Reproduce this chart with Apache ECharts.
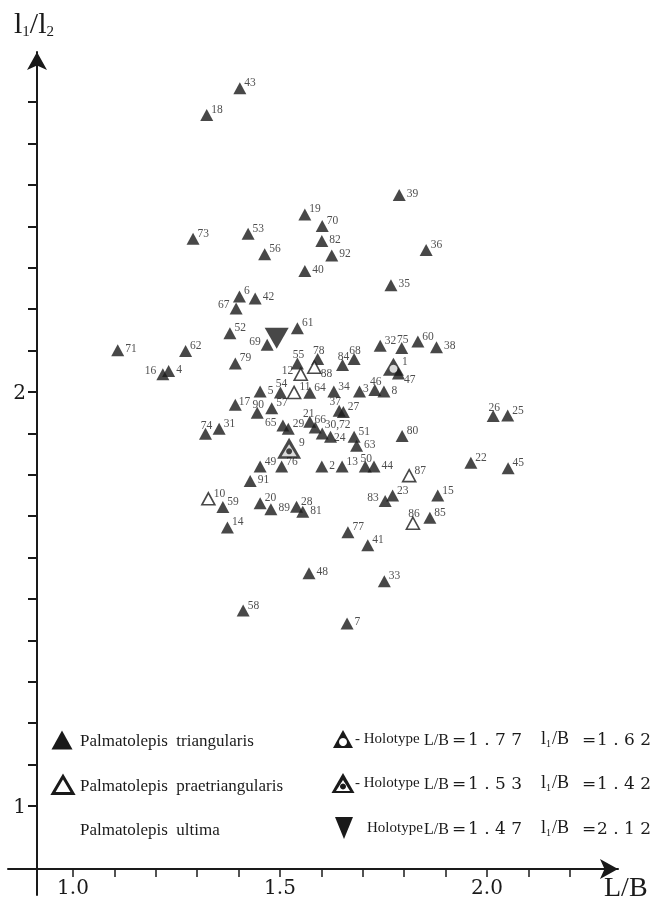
<!DOCTYPE html>
<html>
<head>
<meta charset="utf-8">
<title>Palmatolepis L/B vs l1/l2</title>
<script src="https://cdn.jsdelivr.net/npm/echarts@6/dist/echarts.min.js"></script>
<style>
  html, body { margin: 0; padding: 0; background: #fff; }
  #chart { width: 654px; height: 900px; filter: grayscale(1); }
</style>
</head>
<body>
<div id="chart"></div>
<script>
// Palmatolepis triangularis specimens (filled triangles)
const triIds = ['43','18','19','70','73','53','82','56','92','40','6','42','67','52','61','39','36','35','32','75','60','38','84','68','47','34','3','46','8','71','62','69','79','16','4','55','78','5','54','64','17','90','57','74','31','65','29','21','66','30,72','24','49','76','2','37','27','51','63','80','26','25','22','13','50','44','45','91','59','20','89','28','81','14','83','23','15','85','77','41','48','33','58','7'];
const triLB = [1.403,1.323,1.560,1.602,1.290,1.423,1.601,1.463,1.625,1.560,1.402,1.440,1.394,1.379,1.542,1.788,1.853,1.768,1.742,1.794,1.833,1.878,1.651,1.679,1.786,1.630,1.692,1.729,1.751,1.108,1.272,1.469,1.392,1.217,1.231,1.542,1.591,1.452,1.501,1.572,1.392,1.445,1.480,1.320,1.353,1.507,1.520,1.572,1.585,1.602,1.622,1.452,1.504,1.601,1.643,1.653,1.679,1.685,1.795,2.015,2.050,1.961,1.650,1.706,1.727,2.051,1.428,1.362,1.452,1.478,1.540,1.555,1.373,1.754,1.772,1.881,1.862,1.664,1.712,1.570,1.752,1.411,1.662];
const triLL = [2.734,2.669,2.429,2.401,2.370,2.382,2.365,2.333,2.330,2.292,2.231,2.226,2.202,2.142,2.154,2.476,2.343,2.258,2.112,2.106,2.122,2.108,2.065,2.080,2.045,2.001,2.001,2.005,2.001,2.101,2.099,2.114,2.069,2.043,2.051,2.069,2.080,2.001,1.999,1.998,1.969,1.950,1.961,1.899,1.911,1.919,1.911,1.928,1.914,1.900,1.892,1.820,1.820,1.820,1.955,1.952,1.892,1.870,1.894,1.942,1.943,1.829,1.820,1.820,1.820,1.816,1.785,1.722,1.731,1.717,1.723,1.711,1.673,1.737,1.750,1.750,1.696,1.661,1.630,1.562,1.543,1.472,1.441];

// Palmatolepis praetriangularis specimens (open triangles)
const praeIds = ['10','11','12','86','87','88'];
const praeLB = [1.327,1.534,1.550,1.821,1.812,1.583];
const praeLL = [1.742,1.999,2.043,1.683,1.798,2.060];

// holotypes
const holoTriId = ['1'];
const holoTriLB = [1.774];
const holoTriLL = [2.061];
const holoPraeId = ['9'];
const holoPraeLB = [1.522];
const holoPraeLL = [1.864];
const holoUltLB = [1.492];
const holoUltLL = [2.130];

// axis ticks
const xTicks = [1.0,1.1,1.2,1.3,1.4,1.5,1.6,1.7,1.8,1.9,2.0,2.1,2.2];
const xLabels = [1.0,1.5,2.0];
const yTicks = [1.0,1.1,1.2,1.3,1.4,1.5,1.6,1.7,1.8,1.9,2.0,2.1,2.2,2.3,2.4,2.5,2.6,2.7];
const yLabels = [1,2];

// legend text
const holoText = [
  { dash: '- ', lb: '1 . 7 7', l1: '1 . 6 2' },
  { dash: '- ', lb: '1 . 5 3', l1: '1 . 4 2' },
  { dash: '',   lb: '1 . 4 7', l1: '2 . 1 2' }
];

const INK = '#1a1a1a';
const SERIF = '"Liberation Serif", "DejaVu Serif", serif';
const WIDE = '"DejaVu Serif", serif';

// where each number sits next to its triangle
const place = {
  tr: { position: 'right', distance: 0, offset: [-2, -6] },
  r:  { position: 'right', distance: 1, offset: [0, -2] },
  br: { position: 'right', distance: 0, offset: [-1, 6] },
  t:  { position: 'top', distance: -3, offset: [1, 0] },
  l:  { position: 'left', distance: 1, offset: [1, -4] },
  tt: { position: 'top', distance: -3, offset: [5, 0] },
  tl: { position: 'top', distance: -2, offset: [-4, 0] },
  t0: { position: 'top', distance: -3, offset: [-1, 0] },
  hi: { position: 'right', distance: 0, offset: [-4, -9] },
  lo: { position: 'right', distance: 0, offset: [-3, 0] },
  rn: { position: 'right', distance: 0, offset: [-3, -4] }
};
const side = {
  '67':'l','69':'l','16':'l','12':'l','65':'l','83':'l',
  '75':'t','84':'t','68':'t','46':'t','55':'t','78':'t','54':'t','90':'t','74':'t','26':'t','50':'t','86':'t',
  '82':'r','92':'r','40':'r','42':'r','39':'r','35':'r','38':'r','8':'r','71':'r','4':'r','5':'r','2':'r','63':'r','44':'r','91':'r','89':'r','81':'r','48':'r','7':'r',
  '47':'br','88':'br','30,72':'hi','66':'tt','37':'tl','24':'lo','17':'rn','3':'rn','21':'t0'
};

function points(ids, lb, ll) {
  return ids.map((id, i) => ({ name: id, value: [lb[i], ll[i]], label: place[side[id] || 'tr'] }));
}
function plain(lb, ll) {
  return lb.map((v, i) => [v, ll[i]]);
}

const numLabel = { show: true, formatter: '{b}', fontFamily: SERIF, fontSize: 11.5, color: '#222' };

function tri(cx, cy, w, h, down) {
  return down
    ? [[cx - w / 2, cy - h / 2], [cx + w / 2, cy - h / 2], [cx, cy + h / 2]]
    : [[cx - w / 2, cy + h / 2], [cx + w / 2, cy + h / 2], [cx, cy - h / 2]];
}
function txt(x, y, text, font, align) {
  return { type: 'text', x: x, y: y, style: { text: text, font: font, fill: INK, verticalAlign: 'middle', align: align || 'left' } };
}

// legend block
const legend = [
  { type: 'polygon', shape: { points: tri(62, 740, 21, 19) }, style: { fill: INK } },
  txt(80, 740, 'Palmatolepis  triangularis', '17px ' + SERIF),
  { type: 'polygon', shape: { points: tri(63, 785, 20, 17) }, style: { fill: '#fff', stroke: INK, lineWidth: 3 } },
  txt(80, 785, 'Palmatolepis  praetriangularis', '17px ' + SERIF),
  txt(80, 829, 'Palmatolepis  ultima', '17px ' + SERIF),

  { type: 'polygon', shape: { points: tri(343, 739, 20, 18) }, style: { fill: INK } },
  { type: 'circle', shape: { cx: 343, cy: 742, r: 4 }, style: { fill: '#fff' } },
  { type: 'polygon', shape: { points: tri(343, 783, 23, 20) }, style: { fill: INK } },
  { type: 'polygon', shape: { points: tri(343, 785.5, 14, 11) }, style: { fill: '#fff' } },
  { type: 'circle', shape: { cx: 343, cy: 786.5, r: 3 }, style: { fill: INK } },
  { type: 'polygon', shape: { points: tri(344, 828, 18, 22, true) }, style: { fill: INK } }
];
const rowY = [738, 782, 827];
holoText.forEach((r, i) => {
  const y = rowY[i];
  const x0 = r.dash ? 355 : 367;
  legend.push(
    txt(x0, y, r.dash + 'Holotype', '15px ' + SERIF),
    txt(424, y + 1, 'L/B', '16px ' + SERIF),
    txt(452, y + 1, '=', '17px ' + WIDE),
    txt(522, y + 1, r.lb, '17px ' + WIDE, 'right'),
    txt(541, y, 'l', '18px ' + SERIF),
    txt(546, y + 5, '1', '10px ' + SERIF),
    txt(552, y, '/B', '18px ' + SERIF),
    txt(582, y + 1, '=', '17px ' + WIDE),
    txt(651, y + 1, r.l1, '17px ' + WIDE, 'right')
  );
});

const chart = echarts.init(document.getElementById('chart'), null, { renderer: 'svg' });

const option = {
  animation: false,
  backgroundColor: '#fff',
  grid: { left: 8, right: 36, top: 52, bottom: 5, containLabel: false, outerBoundsMode: 'none' },
  xAxis: {
    type: 'value', min: 0.843, max: 2.3164, offset: -26,
    name: 'L/B', nameLocation: 'end', nameGap: -14,
    nameTextStyle: { fontFamily: SERIF, fontSize: 28, color: INK, verticalAlign: 'top', align: 'left', padding: [3, 0, 0, 0] },
    axisLine: { show: true, onZero: false, symbol: ['none', 'arrow'], symbolSize: [15, 18], lineStyle: { color: INK, width: 2 } },
    axisTick: { show: true, customValues: xTicks, length: 8, lineStyle: { color: INK, width: 1.5 } },
    axisLabel: { customValues: xLabels, formatter: v => v.toFixed(1), fontFamily: WIDE, fontSize: 20, color: INK, margin: 8 },
    splitLine: { show: false }
  },
  yAxis: {
    type: 'value', min: 0.785, max: 2.8213, offset: -29,
    name: '{a|l}{s|1}{a|/l}{s|2}', nameLocation: 'end', nameGap: 14,
    nameTextStyle: {
      color: INK,
      padding: [0, 6, 0, 0],
      rich: {
        a: { fontFamily: SERIF, fontSize: 30, color: INK },
        s: { fontFamily: SERIF, fontSize: 15, color: INK, padding: [16, 0, 0, 0] }
      }
    },
    axisLine: { show: true, onZero: false, symbol: ['none', 'arrow'], symbolSize: [15, 18], lineStyle: { color: INK, width: 2 } },
    axisTick: { show: true, customValues: yTicks, length: 9, lineStyle: { color: INK, width: 2 } },
    axisLabel: { customValues: yLabels, formatter: v => String(Math.round(v)), fontFamily: WIDE, fontSize: 20, color: INK, margin: 11 },
    splitLine: { show: false }
  },
  series: [
    {
      name: 'Palmatolepis triangularis', type: 'scatter',
      symbol: 'triangle', symbolSize: [13, 12],
      itemStyle: { color: INK },
      label: numLabel,
      data: points(triIds, triLB, triLL)
    },
    {
      name: 'Palmatolepis praetriangularis', type: 'scatter',
      symbol: 'triangle', symbolSize: [13, 12],
      itemStyle: { color: '#fff', borderColor: INK, borderWidth: 1.6 },
      label: numLabel,
      data: points(praeIds, praeLB, praeLL)
    },
    {
      name: 'triangularis holotype', type: 'scatter',
      symbol: 'triangle', symbolSize: [21, 18],
      itemStyle: { color: INK },
      label: numLabel,
      data: points(holoTriId, holoTriLB, holoTriLL)
    },
    {
      name: 'triangularis holotype centre', type: 'scatter', silent: true,
      symbol: 'circle', symbolSize: 8, symbolOffset: [0, 2],
      itemStyle: { color: '#fff' },
      data: plain(holoTriLB, holoTriLL)
    },
    {
      name: 'praetriangularis holotype', type: 'scatter',
      symbol: 'triangle', symbolSize: [24, 21],
      itemStyle: { color: INK },
      label: numLabel,
      data: points(holoPraeId, holoPraeLB, holoPraeLL)
    },
    {
      name: 'praetriangularis holotype inner', type: 'scatter', silent: true,
      symbol: 'triangle', symbolSize: [15, 12], symbolOffset: [0, 2],
      itemStyle: { color: '#fff' },
      data: plain(holoPraeLB, holoPraeLL)
    },
    {
      name: 'praetriangularis holotype dot', type: 'scatter', silent: true,
      symbol: 'circle', symbolSize: 6, symbolOffset: [0, 3],
      itemStyle: { color: INK },
      data: plain(holoPraeLB, holoPraeLL)
    },
    {
      name: 'Palmatolepis ultima holotype', type: 'scatter',
      symbol: 'triangle', symbolRotate: 180, symbolSize: [24, 21],
      itemStyle: { color: INK },
      data: plain(holoUltLB, holoUltLL)
    }
  ],
  graphic: legend
};

chart.setOption(option);
</script>
</body>
</html>
